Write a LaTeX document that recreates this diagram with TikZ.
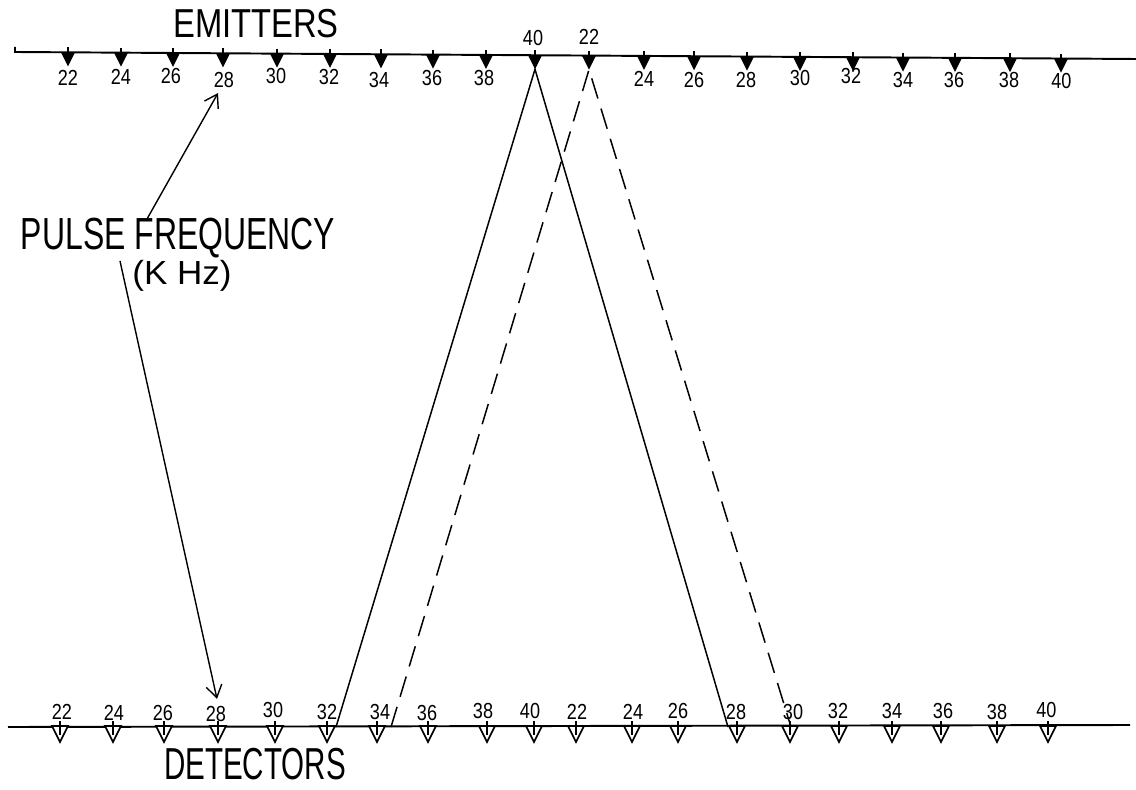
\documentclass[tikz,border=0pt]{standalone}
\usepackage{fontspec}
\setmainfont{Liberation Sans}
\usetikzlibrary{arrows.meta,positioning,calc}

% hand lettering is narrow: squeeze the text sideways
\newcommand{\narrowtext}[2]{\scalebox{#1}[1]{#2}}

\tikzset{
  baseline/.style={line width=1.1pt},
  emitter/.style={fill=black},
  detector/.style={draw=black, line width=1pt, fill=white},
  num/.style={font=\fontsize{12.4}{12.4}\selectfont, inner sep=0pt},
  title/.style={font=\fontsize{23}{23}\selectfont, inner sep=0pt},
  ray/.style={line width=0.85pt},
  pointer/.style={line width=0.8pt, -{Straight Barb[length=7pt,width=9pt]}},
}

\begin{document}
\begin{tikzpicture}[x=0.02cm, y=-0.02cm]
  \useasboundingbox (0,0) rectangle (1136,790);

  % Emitter line (slightly tilted, as drawn)
  \draw[baseline] (15,47) -- (15,52) -- (1136,59);
  \node[title] (emit) at (256,24) {\narrowtext{0.81}{EMITTERS}};

  % Emitters: filled triangles, label below (above for 40 and 22)
  \foreach \x/\lx/\ly/\f [count=\i] in {
    68/68/78/22, 121/121/77/24, 173/171/76/26, 223/224/80/28,
    277/276/76/30, 330/329/77/32, 381/379/80/34, 433/432/78/36,
    486/484/78/38, 535/533/38/40, 589/589/37/22, 644/644/79/24,
    694/694/80/26, 747/746/80/28, 800/800/78/30, 853/851/76/32,
    903/903/80/34, 955/954/80/36, 1010/1009/80/38, 1061/1064/81/40
  } {
    \pgfmathsetmacro\yl{52+7*(\x-15)/1121}
    \fill[emitter] (\x-7,\yl) -- (\x+7,\yl) -- (\x,\yl+14) -- cycle;
    \draw[line width=0.8pt] (\x,\yl-5) -- (\x,\yl);
    \coordinate (e\i) at (\x,\yl+14);
    \node[num] (et\i) at (\lx,\ly) {\narrowtext{0.83}{\f}};
  }

  % Detector line
  \draw[baseline] (8,727) -- (1130,725);
  \node[title, font=\fontsize{25.5}{25.5}\selectfont] (det) at (255,764)
    {\narrowtext{0.66}{DETECTORS}};

  % Detectors: open triangles, label above
  \foreach \x/\lx/\ly/\f [count=\i] in {
    60/62/712/22, 113/114/713/24, 164/163/713/26, 218/216/714/28,
    275/273/710/30, 327/327/712/32, 377/380/712/34, 428/427/713/36,
    487/483/711/38, 534/530/711/40, 576/577/712/22, 632/633/712/24,
    678/678/711/26, 737/736/712/28, 790/793/712/30, 839/838/711/32,
    892/892/711/34, 941/943/711/36, 997/997/712/38, 1048/1049/710/40
  } {
    \draw[detector] (\x-8,726) -- (\x+8,726) -- (\x,742) -- cycle;
    \draw[line width=0.8pt] (\x,721) -- (\x,735);
    \coordinate (d\i) at (\x,726);
    \node[num] (dt\i) at (\lx,\ly) {\narrowtext{0.83}{\f}};
  }

  % Beam paths from the 40 and 22 kHz emitters
  \coordinate (s1) at (336,727);
  \coordinate (s2) at (728,727);
  \coordinate (t1) at (391,727);
  \coordinate (t2) at (791,727);
  \draw[ray] (s1) -- (e10) -- (s2);
  \draw[ray, dash pattern=on 12pt off 6pt] (t1) -- (e11) -- (t2);

  % Label and its two pointers
  \node[title, font=\fontsize{25.6}{25.6}\selectfont] (pf) at (178,238)
    {\narrowtext{0.71}{PULSE FREQUENCY}};
  \node[title, font=\fontsize{19}{19}\selectfont] (khz) at (182,276)
    {\narrowtext{1.05}{(K Hz)}};
  \coordinate (p1) at (147,219);
  \coordinate (p2) at (120,261);
  \draw[pointer] (p1) -- ($(et4.south)+(-6,5)$);
  \draw[pointer] (p2) -- ($(dt4.north)+(1,-7)$);
\end{tikzpicture}
\end{document}
